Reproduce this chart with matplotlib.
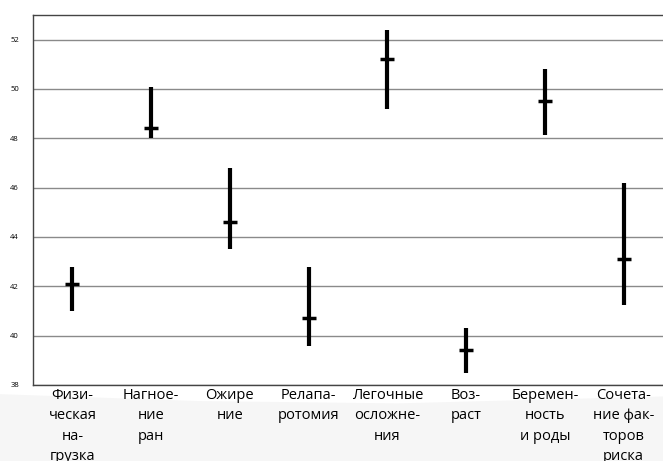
import matplotlib
matplotlib.use("Agg")
import matplotlib.pyplot as plt
from matplotlib.patches import Polygon
import numpy as np

categories = ["Физи-\nческая\nна-\nгрузка", "Нагное-\nние\nран", "Ожире\nние",
              "Релапа-\nротомия", "Легочные\nосложне-\nния", "Воз-\nраст",
              "Беремен-\nность\nи роды", "Сочета-\nние фак-\nторов\nриска"]
means = [42.1, 48.4, 44.6, 40.7, 51.2, 39.4, 49.5, 43.1]
lows = [41.0, 48.0, 43.5, 39.6, 49.2, 38.5, 48.15, 41.25]
highs = [42.8, 50.1, 46.8, 42.8, 52.4, 40.3, 50.8, 46.2]
yticks = [38, 40, 42, 44, 46, 48, 50, 52]

plt.rcParams['font.family'] = ['Open Sans', 'DejaVu Sans']

fig = plt.figure(figsize=(6.63, 4.61), dpi=100)
fig.patch.set_facecolor('white')

# faint slide background wave below the chart
bg = Polygon([[0, 0], [1, 0], [1, 0.14], [0.6, 0.125], [0.3, 0.13], [0, 0.145]],
             closed=True, transform=fig.transFigure, facecolor='#f6f6f6',
             edgecolor='none', zorder=-5)
fig.patches.append(bg)

ax = fig.add_axes([33/663, (461-385)/461, 1 - 33/663, (385-15)/461])
ax.set_facecolor('white')
x = np.arange(len(categories))
m = np.array(means)
yerr = [m - np.array(lows), np.array(highs) - m]
ax.errorbar(x, m, yerr=yerr, fmt='_', color='black', ecolor='black',
            elinewidth=3.0, markersize=10, markeredgewidth=2.5, capsize=0, zorder=3)

ax.set_xlim(-0.5, len(categories) - 0.5)
ax.set_ylim(38, 53)
ax.set_yticks(yticks)
ax.set_yticklabels([str(v) for v in yticks], fontsize=5.5)
ax.set_xticks(x)
ax.set_xticklabels(categories, fontsize=10.5, linespacing=1.5, va='top')
ax.tick_params(axis='both', length=0)
ax.tick_params(axis='y', pad=10)
ax.tick_params(axis='x', pad=2)
ax.yaxis.grid(True, color='#8a8a8a', linewidth=1.0)
ax.set_axisbelow(True)
for s in ['left', 'bottom', 'top']:
    ax.spines[s].set_color('#444444')
    ax.spines[s].set_linewidth(1.0)
ax.spines['right'].set_visible(False)

fig.savefig('out.png', dpi=100)
